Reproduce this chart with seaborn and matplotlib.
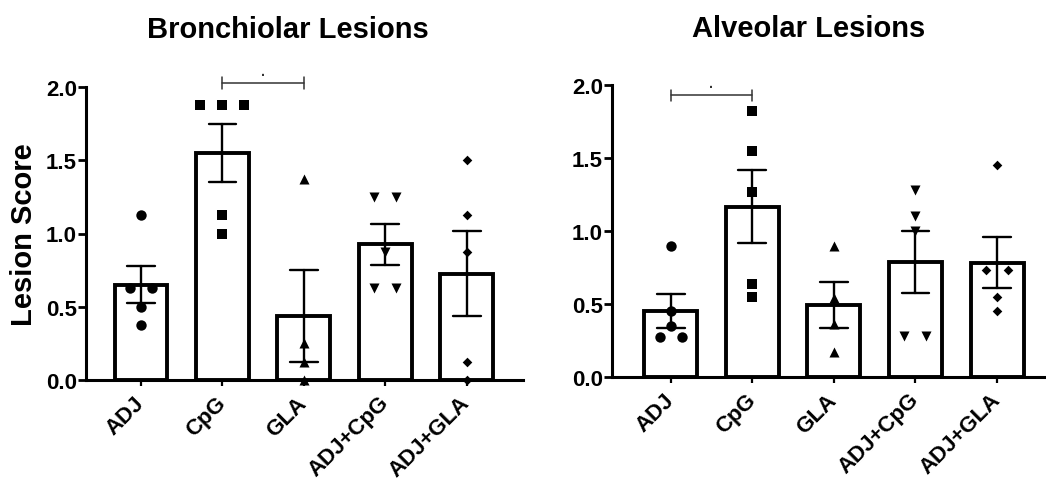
import numpy as np
import pandas as pd
import matplotlib
matplotlib.use('Agg')
import matplotlib.pyplot as plt
import seaborn as sns

# --- data ---
groups = ['ADJ', 'CpG', 'GLA', 'ADJ+CpG', 'ADJ+GLA']
markers = ['o', 's', '^', 'v', 'D']
marker_sizes = [56, 44, 52, 52, 24]

# Bronchiolar lesion scores per animal
bron_adj = [1.125, 0.625, 0.625, 0.5, 0.375]
bron_cpg = [1.875, 1.875, 1.875, 1.125, 1.0]
bron_gla = [1.375, 0.25, 0.125, 0.0]
bron_adj_cpg = [1.25, 1.25, 0.875, 0.625, 0.625]
bron_adj_gla = [1.5, 1.125, 0.875, 0.125, 0.0]

# Alveolar lesion scores per animal
alv_adj = [0.9, 0.45, 0.35, 0.275, 0.275]
alv_cpg = [1.82, 1.55, 1.27, 0.64, 0.55]
alv_gla = [0.9, 0.54, 0.36, 0.17]
alv_adj_cpg = [1.28, 1.1, 1.0, 0.28, 0.28]
alv_adj_gla = [1.45, 0.73, 0.73, 0.55, 0.45]

bron_sig = ('CpG', 'GLA')
alv_sig = ('ADJ', 'CpG')


def tidy(series):
    rows = []
    for g, vals in zip(groups, series):
        for v in vals:
            rows.append((g, v))
    df = pd.DataFrame(rows, columns=['group', 'score'])
    df['code'] = df['group'].map({g: i for i, g in enumerate(groups)})
    # spread tied values side by side, like the prism scatter
    grp = df.groupby(['group', 'score'])['score']
    k = grp.cumcount()
    n = grp.transform('size')
    df['xpos'] = df['code'] + (k - (n - 1) / 2) * 0.27
    return df


bron = tidy([bron_adj, bron_cpg, bron_gla, bron_adj_cpg, bron_adj_gla])
alv = tidy([alv_adj, alv_cpg, alv_gla, alv_adj_cpg, alv_adj_gla])

sns.set_style('ticks', {'axes.edgecolor': 'black', 'text.color': 'black',
                        'axes.labelcolor': 'black', 'xtick.color': 'black',
                        'ytick.color': 'black'})
plt.rcParams['font.family'] = ['Liberation Sans', 'DejaVu Sans']
plt.rcParams['font.weight'] = 'bold'

fig = plt.figure(figsize=(10.46, 4.81), dpi=100)
ax1 = fig.add_axes([86/1046, 1 - 381/481, 437/1046, 293/481])
ax2 = fig.add_axes([612/1046, 1 - 378/481, 434/1046, 292/481])


def panel(ax, df, title, title_x, pad, xlim, sig, sig_y):
    sns.barplot(data=df, x='code', y='score', errorbar='se', capsize=0.34,
                width=0.65, color='white', saturation=1, edgecolor='black',
                linewidth=2.8, err_kws={'color': 'black', 'linewidth': 1.7},
                ax=ax)
    for g, m, s in zip(groups, markers, marker_sizes):
        sub = df[df['group'] == g]
        sns.scatterplot(x=sub['xpos'].values, y=sub['score'].values, marker=m,
                        s=s, color='black', linewidth=0, ax=ax, zorder=3,
                        clip_on=False, legend=False)
    ax.set_xlim(*xlim)
    ax.set_ylim(0, 2.0)
    ax.set_yticks([0, 0.5, 1.0, 1.5, 2.0])
    ax.set_yticklabels(['0.0', '0.5', '1.0', '1.5', '2.0'])
    ax.set_xticks(range(len(groups)))
    ax.set_xticklabels(groups, rotation=45, ha='right', va='center',
                       rotation_mode='anchor')
    ax.set_xlabel('')
    ax.set_ylabel('')
    ax.tick_params(axis='y', length=5.5, width=2, pad=1, labelsize=16)
    ax.tick_params(axis='x', length=4, width=1.6, pad=10, labelsize=16)
    for sp in ['left', 'bottom']:
        ax.spines[sp].set_linewidth(2.2)
    sns.despine(ax=ax)
    ax.set_title(title, x=title_x, pad=pad, fontsize=21, fontweight='bold')
    # significance bracket
    a, b = groups.index(sig[0]), groups.index(sig[1])
    kw = dict(color='#333333', lw=1.1, clip_on=False)
    ax.plot([a, b], [sig_y, sig_y], **kw)
    ax.plot([a, a], [sig_y - 0.038, sig_y + 0.038], **kw)
    ax.plot([b, b], [sig_y - 0.038, sig_y + 0.038], **kw)
    ax.text((a + b) / 2, sig_y + 0.005, '·', ha='center', va='bottom',
            fontsize=10, color='#333333')


panel(ax1, bron, 'Bronchiolar Lesions', 0.462, 36, (-0.675, 4.69), bron_sig, 2.027)
panel(ax2, alv, 'Alveolar Lesions', 0.454, 35, (-0.72, 4.6), alv_sig, 1.93)
ax1.set_ylabel('Lesion Score', fontsize=21, fontweight='bold', labelpad=6)

fig.savefig('out.png', dpi=100)
